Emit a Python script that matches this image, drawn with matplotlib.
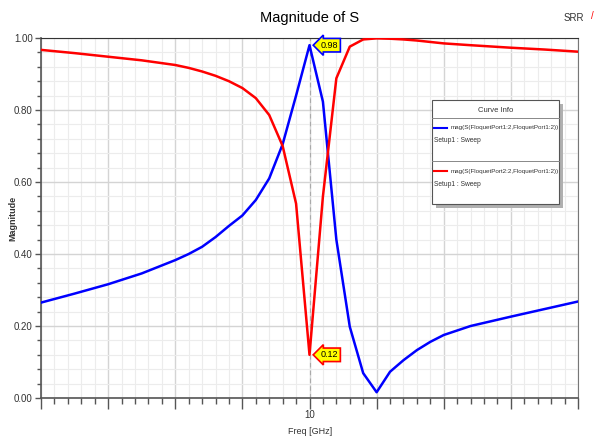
import matplotlib
matplotlib.use("Agg")
import matplotlib.pyplot as plt
from matplotlib.patches import Rectangle
from matplotlib.lines import Line2D
from matplotlib.ticker import MultipleLocator, FixedLocator, FixedFormatter

plt.rcParams['font.family'] = ['Liberation Sans Narrow', 'Liberation Sans', 'DejaVu Sans']

# --- data ---
freq_ghz = [6.0, 6.5, 7.0, 7.5, 8.0, 8.2, 8.4, 8.6, 8.8, 9.0, 9.2, 9.4, 9.6,
            9.8, 10.0, 10.2, 10.4, 10.6, 10.8, 11.0, 11.2, 11.4, 11.6, 11.8,
            12.0, 12.4, 13.0, 13.5, 14.0]
s12_mag = [0.265, 0.290, 0.316, 0.346, 0.383, 0.400, 0.420, 0.447, 0.478,
           0.507, 0.550, 0.610, 0.705, 0.840, 0.980, 0.823, 0.440, 0.198,
           0.069, 0.016, 0.073, 0.105, 0.133, 0.156, 0.175, 0.200, 0.226,
           0.247, 0.268]
s22_mag = [0.967, 0.958, 0.948, 0.938, 0.925, 0.917, 0.907, 0.895, 0.880,
           0.861, 0.833, 0.786, 0.700, 0.540, 0.120, 0.560, 0.888, 0.976,
           0.996, 0.999, 0.998, 0.996, 0.993, 0.989, 0.985, 0.980, 0.973,
           0.968, 0.962]
curve_names = ["mag(S(FloquetPort1:2,FloquetPort1:2))",
               "mag(S(FloquetPort2:2,FloquetPort1:2))"]
sweep_name = "Setup1 : Sweep"
marker_freq = 10.0
x_tick_labels = {10: "10"}

W, H = 595, 441
fig = plt.figure(figsize=(W / 100, H / 100), dpi=100)
fig.patch.set_facecolor("white")


def px(x, y):
    """pixel coords (top-left origin) -> figure fraction"""
    return x / W, 1 - y / H


ax_l, ax_r, ax_t, ax_b = 41, 578, 38, 398
ax = fig.add_axes([ax_l / W, 1 - ax_b / H, (ax_r - ax_l) / W, (ax_b - ax_t) / H])
ax.set_xlim(6, 14)
ax.set_ylim(0, 1)

# grid
ax.xaxis.set_minor_locator(MultipleLocator(0.2))
ax.yaxis.set_major_locator(MultipleLocator(0.2))
ax.yaxis.set_minor_locator(MultipleLocator(0.04))
ax.grid(True, which="major", color="#d4d4d4", lw=1.0, zorder=0)
ax.grid(True, which="minor", color="#ececec", lw=0.8, zorder=0)
ax.set_axisbelow(True)

xt = list(range(6, 15))
ax.xaxis.set_major_locator(FixedLocator(xt))
ax.xaxis.set_major_formatter(FixedFormatter([x_tick_labels.get(v, "") for v in xt]))
ax.yaxis.set_major_formatter(matplotlib.ticker.FormatStrFormatter("%.2f"))
ax.tick_params(axis="both", which="both", direction="out", colors="#555555",
               labelcolor="#333333", labelsize=7, width=1.0)
ax.tick_params(axis="x", which="major", length=8, pad=1)
ax.tick_params(axis="x", which="minor", length=4)
ax.tick_params(axis="y", which="major", length=4, pad=2)
ax.tick_params(axis="y", which="minor", length=3)
for side in ("left", "bottom"):
    ax.spines[side].set_color("#555555")
    ax.spines[side].set_linewidth(1.2)
ax.spines["top"].set_color("#333333")
ax.spines["right"].set_color("#777777")

# marker line
ax.axvline(marker_freq, color="#aaaaaa", lw=0.8, ls=(0, (4, 3)), zorder=1)

ax.plot(freq_ghz, s12_mag, color="#0000ff", lw=1.8, zorder=3)
ax.plot(freq_ghz, s22_mag, color="#ff0000", lw=1.8, zorder=3)

# marker labels
i_m = freq_ghz.index(marker_freq)
for vals, ec in ((s12_mag, "#0000ff"), (s22_mag, "#ff0000")):
    ax.annotate(f"{vals[i_m]:.2f}", (marker_freq, vals[i_m]), xytext=(8, 0),
                textcoords="offset points", ha="left", va="center", fontsize=6.5,
                bbox=dict(boxstyle="larrow,pad=0.25", fc="#ffff00", ec=ec, lw=1.2),
                zorder=5)

# titles / labels
fig.text(*px(310, 18), "Magnitude of S", ha="center", va="center", fontsize=10.5)
fig.text(*px(574, 18), "SRR", ha="center", va="center", fontsize=7, color="#333333")
fig.text(*px(592, 16), "/", ha="center", va="center", fontsize=7, color="#ff0000")
fig.text(*px(13, 218), "Magnitude", ha="center", va="center", rotation=90,
         fontsize=6.5, fontweight="bold", color="#333333")
fig.text(*px(310, 432), "Freq [GHz]", ha="center", va="center", fontsize=6.5, color="#333333")

# legend box ("Curve Info")
lx0, lx1, ly0, ly1 = 432, 559, 100, 204
shadow = Rectangle(px(lx0 + 4, ly1 + 4), (lx1 - lx0) / W, (ly1 - ly0) / H,
                   transform=fig.transFigure, fc="#b0b0b0", ec="none", zorder=8)
box = Rectangle(px(lx0, ly1), (lx1 - lx0) / W, (ly1 - ly0) / H,
                transform=fig.transFigure, fc="white", ec="#555555", lw=0.8, zorder=9)
fig.add_artist(shadow)
fig.add_artist(box)
fig.text(*px((lx0 + lx1) / 2, 110), "Curve Info", ha="center", va="center",
         fontsize=5.5, color="#333333", zorder=10)
for yy in (118, 161):
    fig.add_artist(Line2D([lx0 / W, lx1 / W], [1 - yy / H, 1 - yy / H],
                          transform=fig.transFigure, color="#888888", lw=0.7, zorder=10))
for name, col, yy in ((curve_names[0], "#0000ff", 128), (curve_names[1], "#ff0000", 171)):
    fig.add_artist(Line2D([434 / W, 447 / W], [1 - yy / H, 1 - yy / H],
                          transform=fig.transFigure, color=col, lw=1.5, zorder=10))
    fig.text(*px(451, yy), name, ha="left", va="center", fontsize=4.5,
             color="#333333", zorder=10)
    fig.text(*px(434, yy + 13), sweep_name, ha="left", va="center", fontsize=4.8,
             color="#333333", zorder=10)

fig.savefig("out.png", dpi=100)
